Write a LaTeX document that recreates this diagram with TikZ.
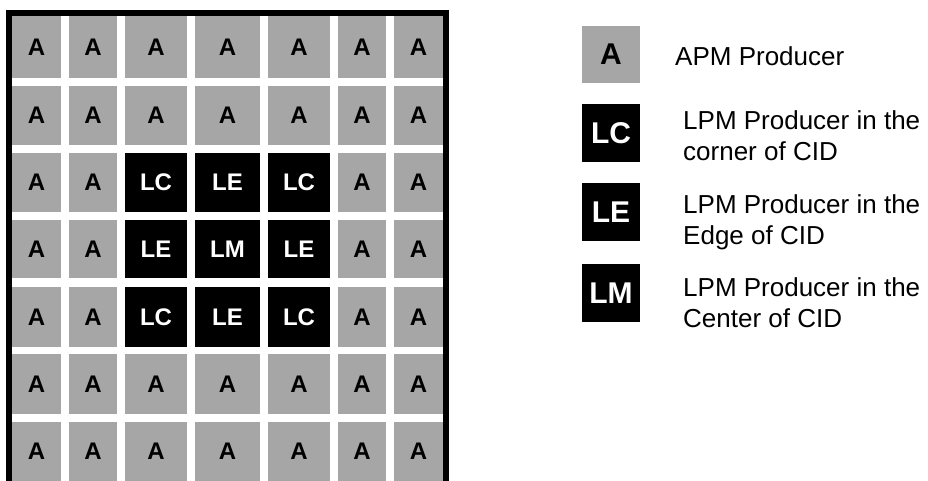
\documentclass[tikz,border=0pt]{standalone}
\usepackage{fontspec}
\setmainfont{Liberation Sans}

\begin{document}
\begin{tikzpicture}[
  x=1pt,y=-1pt,
  cell/.style={inner sep=0pt,font=\fontsize{24}{28}\selectfont\bfseries},
  apm/.style={cell,fill=black!35,text=black},
  lpm/.style={cell,fill=black,text=white},
  keycell/.style={font=\fontsize{30}{34}\selectfont\bfseries,minimum width=58pt},
  keytext/.style={anchor=west,inner sep=0pt,align=left,font=\fontsize{26}{31}\selectfont},
  frame/.style={draw=black,line width=6pt},
]
\useasboundingbox (0,0) rectangle (928,481);

% producer grid, LPM block in the middle
\draw[frame] (9,481) -- (9,13) -- (446,13) -- (446,481);
\foreach \r/\y/\h in {1/47/62,2/115.5/59,3/182.5/59,4/249/58,5/317/60,6/384/60,7/451.5/59} {
  \foreach \c/\x/\w in {1/36.5/49,2/93/48,3/156/62,4/227.5/65,5/299/62,6/362/48,7/418.5/49} {
    \pgfmathtruncatemacro\kind{(abs(\r-4)<2 && abs(\c-4)<2) ? abs(\r-4)+abs(\c-4)+1 : 0}
    \ifcase\kind
      \node[apm,minimum width=\w pt,minimum height=\h pt] (p\r\c) at (\x,\y) {A};
    \or
      \node[lpm,minimum width=\w pt,minimum height=\h pt] (p\r\c) at (\x,\y) {LM};
    \or
      \node[lpm,minimum width=\w pt,minimum height=\h pt] (p\r\c) at (\x,\y) {LE};
    \or
      \node[lpm,minimum width=\w pt,minimum height=\h pt] (p\r\c) at (\x,\y) {LC};
    \fi
  }
}

% legend
\node[apm,keycell,minimum height=57pt] (keyA) at (611,54.5) {A};
\node[lpm,keycell,minimum height=58pt] (keyLC) at (611,133) {LC};
\node[lpm,keycell,minimum height=58pt] (keyLE) at (611,212) {LE};
\node[lpm,keycell,minimum height=58pt] (keyLM) at (611,293) {LM};

\node[keytext] (txtA) at (675,56) {APM Producer};
\node[keytext] (txtLC) at (683,136) {LPM Producer in the\\corner of CID};
\node[keytext] (txtLE) at (683,222.5) {LPM Producer in the\\Edge of CID};
\node[keytext] (txtLM) at (683,302.5) {LPM Producer in the\\Center of CID};

\end{tikzpicture}
\end{document}
